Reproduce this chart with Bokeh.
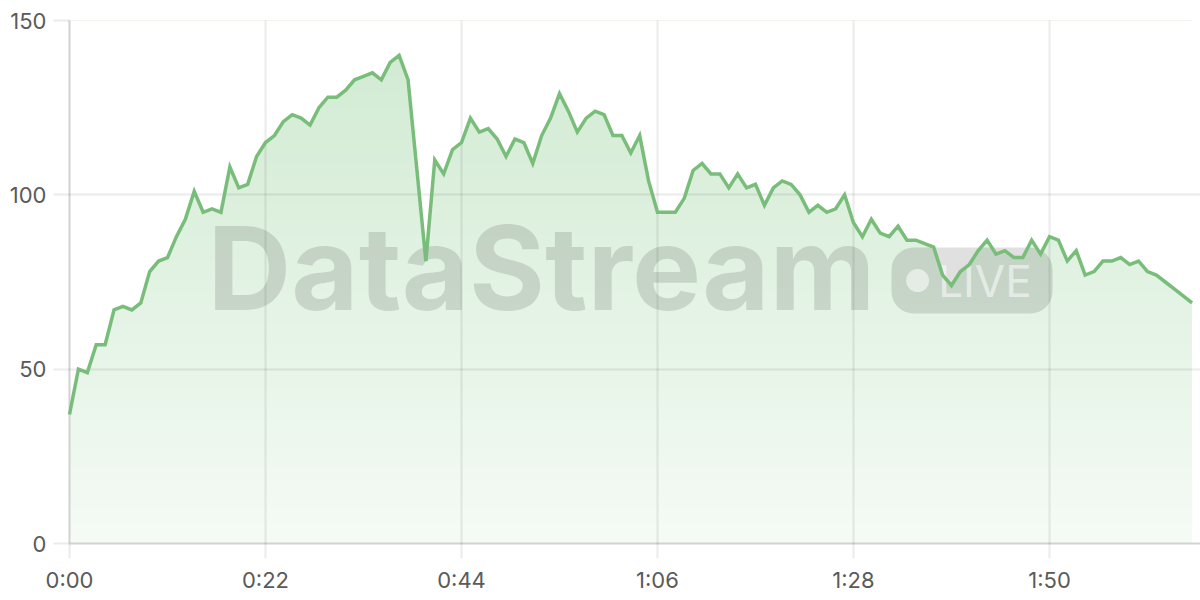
import numpy as np
from bokeh.plotting import figure
from bokeh.models import Range1d, FixedTicker, BoxAnnotation
from bokeh.core.properties import value
from bokeh.embed import file_html
from bokeh.resources import INLINE

# ---------------- data ----------------
seconds = list(range(127))
values = [37, 50, 49, 57, 57, 67, 68, 67, 69, 78, 81, 82, 88, 93, 101, 95, 96, 95, 108, 102, 103, 111,
          115, 117, 121, 123, 122, 120, 125, 128, 128, 130, 133, 134, 135, 133, 138, 140, 133, 107, 81, 110, 106, 113,
          115, 122, 118, 119, 116, 111, 116, 115, 109, 117, 122, 129, 124, 118, 122, 124, 123, 117, 117, 112, 117, 104,
          95, 95, 95, 99, 107, 109, 106, 106, 102, 106, 102, 103, 97, 102, 104, 103, 100, 95, 97, 95, 96, 100,
          92, 88, 93, 89, 88, 91, 87, 87, 86, 85, 77, 74, 78, 80, 84, 87, 83, 84, 82, 82, 87, 83,
          88, 87, 81, 84, 77, 78, 81, 81, 82, 80, 81, 78, 77, 75, 73, 71, 69]
x_ticks = [0, 22, 44, 66, 88, 110]
x_tick_labels = ["0:00", "0:22", "0:44", "1:06", "1:28", "1:50"]
y_ticks = [0, 50, 100, 150]
watermark_text = "DataStream"
badge_text = "LIVE"

# ---------------- style ----------------
LINE_COLOR = "#79bd7a"
FILL_RGB = (129, 199, 132)
FONT = "Inter"
Y_MAX = 150

p = figure(width=1200, height=600, output_backend="svg", toolbar_location=None,
           x_range=Range1d(0, 126.95), y_range=Range1d(0, Y_MAX),
           min_border_left=69, min_border_right=0, min_border_top=20, min_border_bottom=57)
p.outline_line_color = None
p.background_fill_color = "white"
p.border_fill_color = "white"

# vertical gradient under the curve: bands + white mask above the line
def blend(a):
    return "#%02x%02x%02x" % tuple(int(round(255 - a * (255 - c))) for c in FILL_RGB)

band_bottoms = np.arange(0, Y_MAX, 1.0)
band_colors = [blend(min(0.08 + 0.27 * (b + 0.5) / 135.0, 0.37)) for b in band_bottoms]
p.quad(left=seconds[0], right=seconds[-1], bottom=band_bottoms, top=band_bottoms + 1.6,
       fill_color=band_colors, line_color=None)
p.varea(x=seconds, y1=values, y2=Y_MAX, fill_color="white")

# watermark
p.text(x=[15.5], y=[79.1], text=[watermark_text], text_font=value(FONT), text_font_style="bold",
       text_font_size="116px", text_color="black", text_alpha=0.12,
       text_baseline="alphabetic", text_align="left")
badge = BoxAnnotation(left=92.27, right=110.34, bottom=65.96, top=84.9,
                      fill_color="black", fill_alpha=0.12, line_color=None,
                      border_radius=22, level="guide")
p.add_layout(badge)
p.scatter(x=[95.2], y=[75.4], size=23, fill_color="white", fill_alpha=0.55,
          line_color=None, level="annotation")
p.text(x=[97.5], y=[75.4], text=[badge_text], text_font=value(FONT), text_font_size="44px",
       text_color="white", text_alpha=0.55, text_baseline="alphabetic", text_align="left",
       level="annotation")

# main line
p.line(seconds, values, line_color=LINE_COLOR, line_width=3.5, line_join="miter", level="overlay")

# axes
p.xaxis.ticker = FixedTicker(ticks=x_ticks)
p.xaxis.major_label_overrides = dict(zip(x_ticks, x_tick_labels))
p.yaxis.ticker = FixedTicker(ticks=y_ticks)
for ax in (p.xaxis[0], p.yaxis[0]):
    ax.axis_line_color = "#d2d2d2"
    ax.axis_line_width = 2
    ax.major_tick_in = 0
    ax.major_tick_line_color = "black"
    ax.major_tick_line_alpha = 0.08
    ax.major_tick_line_width = 2
    ax.minor_tick_line_color = None
    ax.major_label_text_font = FONT
    ax.major_label_text_font_size = "22px"
    ax.major_label_text_color = "#5a5a5a"
p.xaxis.major_tick_out = 15
p.yaxis.major_tick_out = 16
p.xaxis.major_label_standoff = 8
p.yaxis.major_label_standoff = 7

p.xgrid.ticker = FixedTicker(ticks=x_ticks[1:])
p.ygrid.ticker = FixedTicker(ticks=y_ticks[1:])
for g in (p.xgrid[0], p.ygrid[0]):
    g.grid_line_color = "black"
    g.grid_line_alpha = 0.08
    g.grid_line_width = 2
    g.level = "annotation"

open("out.html", "w").write(file_html(p, INLINE))
